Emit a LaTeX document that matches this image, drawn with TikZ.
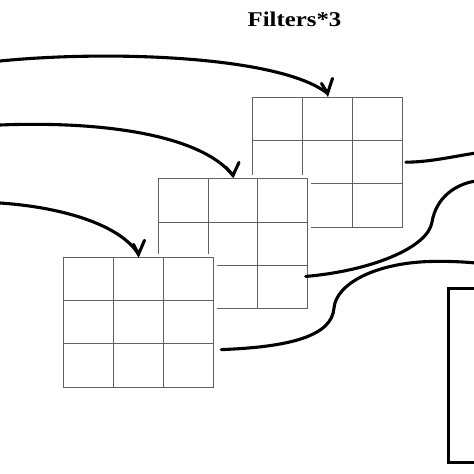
\documentclass[tikz,border=0pt]{standalone}
\usepackage{fontspec}
\setmainfont{Liberation Serif}
\usetikzlibrary{calc}
\begin{document}
\begin{tikzpicture}[x=1pt,y=-1pt,
  gridbox/.style={draw=black!62, line width=1pt, fill=white,
    preaction={draw=white, line width=7pt},
    minimum width=149.5pt, minimum height=130pt, inner sep=0pt, outer sep=0pt},
  gridline/.style={draw=black!62, line width=1pt},
  flow/.style={draw=black, line width=3.1pt, line cap=round},
  barb/.style={draw=black, line width=3.1pt, line cap=round, line join=miter},
  outbox/.style={draw=black, line width=2.6pt, minimum width=80pt, minimum height=174pt, inner sep=0pt, outer sep=0pt},
  titletext/.style={font=\fontsize{21}{24}\selectfont\bfseries, inner sep=0pt, xscale=1.18}
]
\useasboundingbox (0,0) rectangle (474,474);
\clip (0,0) rectangle (474,474);
\fill[white] (0,0) rectangle (474,474);

\node[titletext, anchor=base] (title) at (294.5,26.7) {Filters*3};

% back grid
\node[gridbox] (g3) at (327.5,162.2) {};
\foreach \f in {1/3,2/3}{
  \draw[gridline] ($(g3.north west)!\f!(g3.north east)$) -- ($(g3.south west)!\f!(g3.south east)$);
  \draw[gridline] ($(g3.north west)!\f!(g3.south west)$) -- ($(g3.north east)!\f!(g3.south east)$);
}
% middle grid
\node[gridbox] (g2) at (233,243.9) {};
\foreach \f in {1/3,2/3}{
  \draw[gridline] ($(g2.north west)!\f!(g2.north east)$) -- ($(g2.south west)!\f!(g2.south east)$);
  \draw[gridline] ($(g2.north west)!\f!(g2.south west)$) -- ($(g2.north east)!\f!(g2.south east)$);
}
% front grid
\node[gridbox] (g1) at (138.5,322.3) {};
\foreach \f in {1/3,2/3}{
  \draw[gridline] ($(g1.north west)!\f!(g1.north east)$) -- ($(g1.south west)!\f!(g1.south east)$);
  \draw[gridline] ($(g1.north west)!\f!(g1.south west)$) -- ($(g1.north east)!\f!(g1.south east)$);
}

% output box at right
\node[outbox, anchor=north west] (box) at (448.3,288.7) {};

% input arrows
\coordinate (s3) at (0,61);
\coordinate (s2) at (0,125);
\coordinate (s1) at (0,203);
\coordinate (t3) at ($(g3.north)+(0,-3.8)$);
\coordinate (t2) at ($(g2.north)+(0,-3.5)$);
\coordinate (t1) at ($(g1.north)+(0,-3)$);

\draw[flow] (s3) .. controls (110,50) and (280,56) .. (t3);
\draw[barb] ($(t3)+(-6,-10)$) -- (t3) -- ($(t3)+(5,-15)$);
\draw[flow] (s2) .. controls (100,121) and (200,134) .. (t2);
\draw[barb] ($(t2)+(-7,-8)$) -- (t2) -- ($(t2)+(6,-13)$);
\draw[flow] (s1) .. controls (60,207) and (120,224) .. (t1);
\draw[barb] ($(t1)+(-5,-10)$) -- (t1) -- ($(t1)+(6,-14)$);

% output connectors
\coordinate (eA) at (476,153);
\coordinate (eB) at (476,181);
\coordinate (eC) at (476,263);
\coordinate (oA) at ($(g3.east)+(3.7,0)$);
\coordinate (oB) at ($(g2.south east)!0.25!(g2.north east)+(-2,0)$);
\coordinate (oC) at ($(g1.south east)!0.29!(g1.north east)+(8,0)$);

\draw[flow] (oA) .. controls (430,162) and (450,157) .. (eA);
\draw[flow] (oB) .. controls (370,271) and (428,248) .. (432,222)
  .. controls (436,198) and (455,184) .. (eB);
\draw[flow] (oC) .. controls (290,347) and (332,336) .. (334,308)
  .. controls (336,284) and (375,263) .. (430,261.5)
  .. controls (450,261) and (465,262) .. (eC);
\end{tikzpicture}
\end{document}
